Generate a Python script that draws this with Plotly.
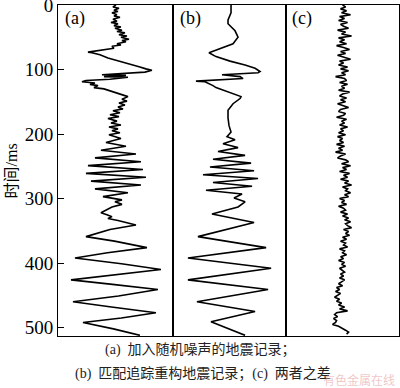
import plotly.graph_objects as go
from plotly.subplots import make_subplots

# ---- data (time in ms, amplitude in arbitrary units) ----
a_time = [0, 3, 5, 8, 10, 12, 15, 17, 19, 22, 25, 27, 29, 32, 34, 36, 39, 41, 43, 46,
          48, 50, 53, 55, 57, 60, 62, 64, 67, 70, 73, 74, 77, 82, 87, 91, 96, 99, 101, 104,
          106, 108, 109, 111, 112, 115, 117, 119, 121, 123, 125, 128, 130, 135, 139, 142, 146, 149, 152, 155,
          158, 161, 164, 167, 170, 173, 176, 180, 183, 186, 189, 192, 195, 198,
          201, 207, 213, 219, 225, 231, 237, 243, 249, 255, 261, 267, 273, 279, 285, 291, 297, 302, 305, 309,
          313, 316, 319, 322, 325, 328, 331, 334, 341, 348, 359, 366, 376, 384, 392, 401, 410, 418, 426, 433,
          441, 451, 460, 468, 477, 485, 492, 502, 512]
a_amp = [0.5, -2.5, 3.5, -1.5, 2.5, -3.5, 1.5, -1.5, 4.5, -2.5, 1.5, -4.5, 2.5, -1.5, 5.5, -0.5, 6.5, 1.5, 9.5, 3.5,
         11.5, 5.5, 13.5, 6.5, 10.5, 1.5, 5.5, -3.5, -1.5, -15.5, -27.5, -23.5, -15.5, -7.5, 4.5, 14.5, 24.5, 30.5, 36.5, 29.5,
         2.5, -13.5, 10.5, -11.5, 12.5, -5.5, -29.5, -33.5, -20.5, -25.5, -17.5, -21.5, -11.5, -1.5, 8.5, 12.5, 6.5, 11.5, 3.5, 9.5,
         2.5, 7.5, -2.5, 4.5, -5.5, 3.5, -7.5, 1.5, -4.5, 5.5, -6.5, 2.5, -3.5, 4.5,
         -6.5, 5.5, -9.5, 10.5, -14.5, 20.5, -20.5, 25.5, -27.5, 27.5, -29.5, 30.5, -24.5, 25.5, -20.5, 12.5, -12.5, 6.5, -0.5, 6.5,
         -3.5, -7.5, -11.5, -14.5, -8.5, -3.5, -7.5, 2.5, 20.5, -5.5, -29.5, -1, 31.5, -8, -40.5, 6, 45.5, 2, -44.5, -3,
         42.5, 3, -42.5, -4, 40.5, 6, -32.5, -2, 24.5]

b_time = [0, 12, 23, 29, 40, 50, 60, 70, 74, 80, 87, 93, 98, 103, 105, 108, 111, 114, 116, 118,
          119, 122, 125, 128, 132, 138, 142, 145, 153, 163, 175, 187, 197, 204, 209, 215, 221, 227, 233, 239,
          245, 251, 257, 263, 269, 275, 281, 287, 293, 299, 305, 313, 324, 337, 359, 376, 392, 408, 426, 441,
          460, 475, 491, 512]
b_amp = [1.5, 1.5, -1.5, -1.5, 5.5, 8.5, 3.5, -14.5, -20.5, -13.5, 0.5, 15.5, 25.5, 30.5, 28.5, -7.5, 10.5, 13.5, -14.5, -33.5,
         -24.5, -19.5, -16.5, -13.5, -6.5, 5.5, 11.5, 10.5, 3.5, -1.5, -1.5, -0.5, 1.5, -2.5, 5.5, -6.5, 8.5, -11.5, 15.5, -16.5,
         21.5, -19.5, 24.5, -26.5, 28.5, -16.5, 22.5, -23.5, 12.5, 4.5, 15.5, 8.5, -17.5, 24.5, -31.5, 36.5, -41.5, 41.5, -41.5, 38.5,
         -32.5, 25.5, -18.5, 15.5]

c_time = list(range(0, 511, 3))
c_amp = [0, 3, -2, 4, -1, 8, -3, 2, -4, 5,
         -2, 1, 6, -5, 3, -1, 9, -4, 2, -3,
         4, -6, 1, 7, -2, 3, -5, 2, 8, -3,
         1, -4, 5, -2, 6, -1, 3, -7, 2, 4,
         -3, 5, -1, 2, -4, 7, 0, -3, 4, -2,
         3, -5, 1, 6, -2, -4, 3, 1, -6, 4,
         -1, 2, -3, 5, -2, 1, -4, 3, -5, 0,
         -3, 1, -6, 2, -4, 0, -7, 3, -2, -5,
         3, 6, -1, 8, 0, 4, -3, 7, 1, 5,
         -2, 6, 2, 9, 0, 5, 3, 8, 2, 6,
         -3, 2, -1, 4, -4, 1, 3, -2, 5, 0,
         6, 2, 8, 3, 5, 9, 1, 6, 3, 7,
         0, 4, -2, 3, 1, 5, -3, 2, 0, 4,
         -2, 1, -4, 2, -1, 3, -3, 0, 2, -2,
         1, -3, 2, -1, -4, 0, -6, -3, -7, -2,
         -5, -8, -3, -6, -1, -4, 2, -3, 5, -6,
         -8, -5, -9, -6, -7, -10, -4, 0, 3, 6,
         4]

y_ticks = [0, 100, 200, 300, 400, 500]
panel_labels = ["(a)", "(b)", "(c)"]
y_title = "时间/ms"
caption1 = "(a)  加入随机噪声的地震记录；"
caption2 = "(b)  匹配追踪重构地震记录；(c)  两者之差"
watermark = "有色金属在线"

assert len(a_time) == len(a_amp)
assert len(b_time) == len(b_amp)
assert len(c_time) == len(c_amp)

# ---- figure ----
fig = make_subplots(rows=1, cols=3, shared_yaxes=True, horizontal_spacing=0)
line_style = dict(color="black", width=1.6)
for i, (xs, ys) in enumerate([(a_amp, a_time), (b_amp, b_time), (c_amp, c_time)], start=1):
    fig.add_trace(go.Scatter(x=xs, y=ys, mode="lines", line=line_style,
                             showlegend=False, hoverinfo="skip"), row=1, col=i)

domains = [[0, 0.337], [0.337, 0.669], [0.669, 1.0]]
ranges = [[-57.5, 57.5], [-56.5, 56.5], [-56.5, 56.5]]
for i in range(3):
    key = "xaxis" if i == 0 else f"xaxis{i+1}"
    fig.layout[key].update(domain=domains[i], range=ranges[i], showticklabels=False,
                           ticks="", showgrid=False, zeroline=False, showline=True,
                           mirror=True, linecolor="black", linewidth=1, automargin=False)
    ykey = "yaxis" if i == 0 else f"yaxis{i+1}"
    fig.layout[ykey].update(range=[513, 0], showgrid=False, zeroline=False, showline=True,
                            mirror=True, linecolor="black", linewidth=1, automargin=False)

fig.update_layout(
    yaxis=dict(tickvals=y_ticks, ticks="inside", ticklen=6, tickcolor="black",
               ticklabeloverflow="allow",
               tickfont=dict(family="Liberation Serif", size=19, color="black")),
    yaxis2=dict(showticklabels=False, ticks=""),
    yaxis3=dict(showticklabels=False, ticks=""),
)

annotations = []
label_x = [0.0147, 0.352, 0.680]
for lx, lab in zip(label_x, panel_labels):
    annotations.append(dict(text=lab, xref="paper", yref="paper", x=lx, y=0.958,
                            xanchor="left", yanchor="middle", showarrow=False,
                            font=dict(family="Liberation Serif", size=18, color="black")))
annotations.append(dict(text=y_title, xref="paper", yref="paper", x=-0.135, y=0.5,
                        xanchor="center", yanchor="middle", textangle=-90, showarrow=False,
                        font=dict(family="Liberation Serif, Noto Sans CJK SC", size=16, color="black")))
annotations.append(dict(text=caption1, xref="paper", yref="paper", x=0.418, y=-0.0423,
                        xanchor="center", yanchor="middle", showarrow=False,
                        font=dict(family="Liberation Serif, Noto Sans CJK SC", size=14, color="#222")))
annotations.append(dict(text=caption2, xref="paper", yref="paper", x=0.425, y=-0.1133,
                        xanchor="center", yanchor="middle", showarrow=False,
                        font=dict(family="Liberation Serif, Noto Sans CJK SC", size=14, color="#222")))
annotations.append(dict(text=watermark, xref="paper", yref="paper", x=0.993, y=-0.131,
                        xanchor="right", yanchor="middle", showarrow=False,
                        font=dict(family="Noto Sans CJK SC", size=12, color="rgba(225,150,150,0.55)")))

fig.update_layout(
    width=400, height=388,
    margin=dict(l=58, r=1, t=5, b=52, autoexpand=False),
    paper_bgcolor="white", plot_bgcolor="white",
    annotations=annotations,
)

fig.write_html("out.html", config={"displayModeBar": False},
               post_script="document.body.style.margin='0';document.body.style.overflow='hidden';")
